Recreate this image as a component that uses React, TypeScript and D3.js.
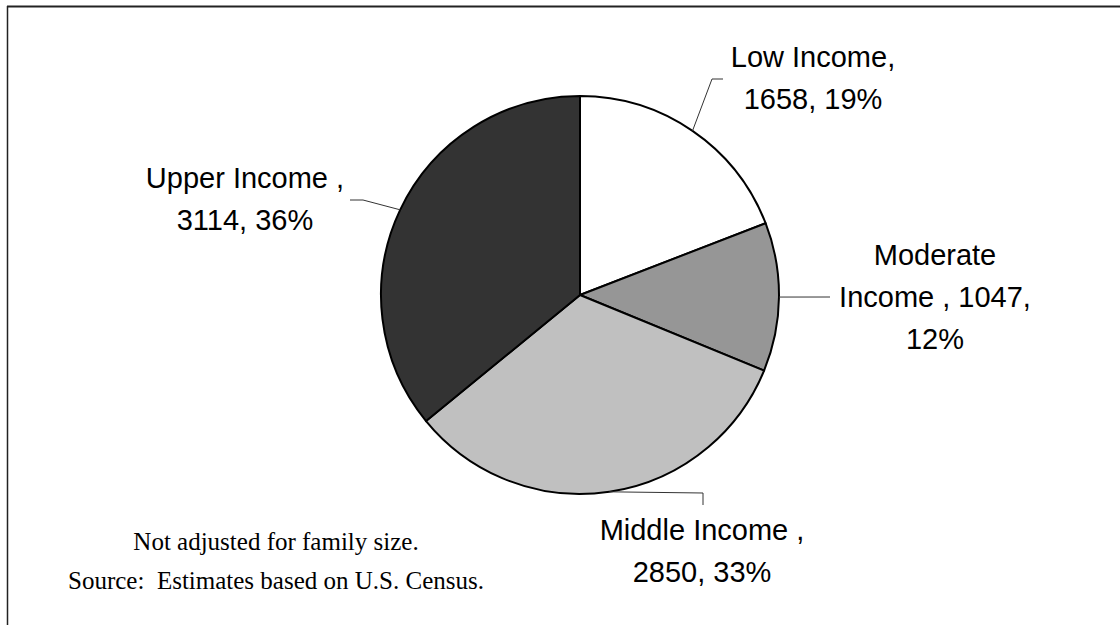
import React, { useEffect, useRef } from "react";
import * as d3 from "d3";

const categories = ["Low Income", "Moderate Income", "Middle Income", "Upper Income"];
const values = [1658, 1047, 2850, 3114];
const percents = ["19%", "12%", "33%", "36%"];
const labelLines = [
  ["Low Income,", "1658, 19%"],
  ["Moderate", "Income , 1047,", "12%"],
  ["Middle Income ,", "2850, 33%"],
  ["Upper Income ,", "3114, 36%"],
];
const colors = ["#ffffff", "#969696", "#c0c0c0", "#333333"];
const footnotes = ["Not adjusted for family size.", "Source:  Estimates based on U.S. Census."];

// layout (positions only)
const W = 1120, H = 625;
const cx = 580, cy = 295, R = 199;
const labelLayout = [
  { x: 813, y: 67, elbow: [[712, 79], [723, 79]] },
  { x: 935, y: 265, elbow: [[830, 297]] },
  { x: 702, y: 540, elbow: [[703, 493], [703, 505]] },
  { x: 245, y: 188, elbow: [[363, 200], [350, 200]] },
];
const lineGap = 42;

export default function App() {
  const ref = useRef<SVGSVGElement | null>(null);
  useEffect(() => {
    const svg = d3.select(ref.current);
    svg.selectAll("*").remove();

    // frame
    svg.append("line").attr("x1", 7).attr("x2", W).attr("y1", 6.5).attr("y2", 6.5)
      .attr("stroke", "#222").attr("stroke-width", 2);
    svg.append("line").attr("x1", 7.5).attr("x2", 7.5).attr("y1", 6).attr("y2", H)
      .attr("stroke", "#222").attr("stroke-width", 1.5);

    const pie = d3.pie<number>().sort(null).value((d) => d);
    const arcs = pie(values);
    const arc = d3.arc<d3.PieArcDatum<number>>().innerRadius(0).outerRadius(R);
    const g = svg.append("g").attr("transform", `translate(${cx},${cy})`);
    g.selectAll("path").data(arcs).enter().append("path")
      .attr("d", arc as any)
      .attr("fill", (_d, i) => colors[i])
      .attr("stroke", "#000").attr("stroke-width", 2).attr("stroke-linejoin", "round");

    arcs.forEach((a, i) => {
      const mid = (a.startAngle + a.endAngle) / 2;
      const sx = cx + R * Math.sin(mid);
      const sy = cy - R * Math.cos(mid);
      const L = labelLayout[i];
      const pts: [number, number][] = [[sx, sy], ...(L.elbow as [number, number][])];
      svg.append("path").attr("d", d3.line()(pts) as string)
        .attr("fill", "none").attr("stroke", "#333").attr("stroke-width", 1);
      const t = svg.append("text").attr("text-anchor", "middle")
        .attr("font-family", "'Liberation Sans', Arial, sans-serif")
        .attr("font-size", 29).attr("fill", "#000");
      labelLines[i].forEach((ln, j) => {
        t.append("tspan").attr("x", L.x).attr("y", L.y + j * lineGap).text(ln);
      });
    });

    const f = svg.append("text").attr("text-anchor", "middle")
      .attr("font-family", "'Liberation Serif', 'Times New Roman', serif")
      .attr("font-size", 25).attr("fill", "#000");
    footnotes.forEach((ln, j) => {
      f.append("tspan").attr("x", 276).attr("y", 550 + j * 39)
        .attr("xml:space", "preserve").style("white-space", "pre").text(ln);
    });
  }, []);

  return (
    <svg ref={ref} width={W} height={H}
      style={{ position: "absolute", left: 0, top: 0, background: "#fff" }} />
  );
}
